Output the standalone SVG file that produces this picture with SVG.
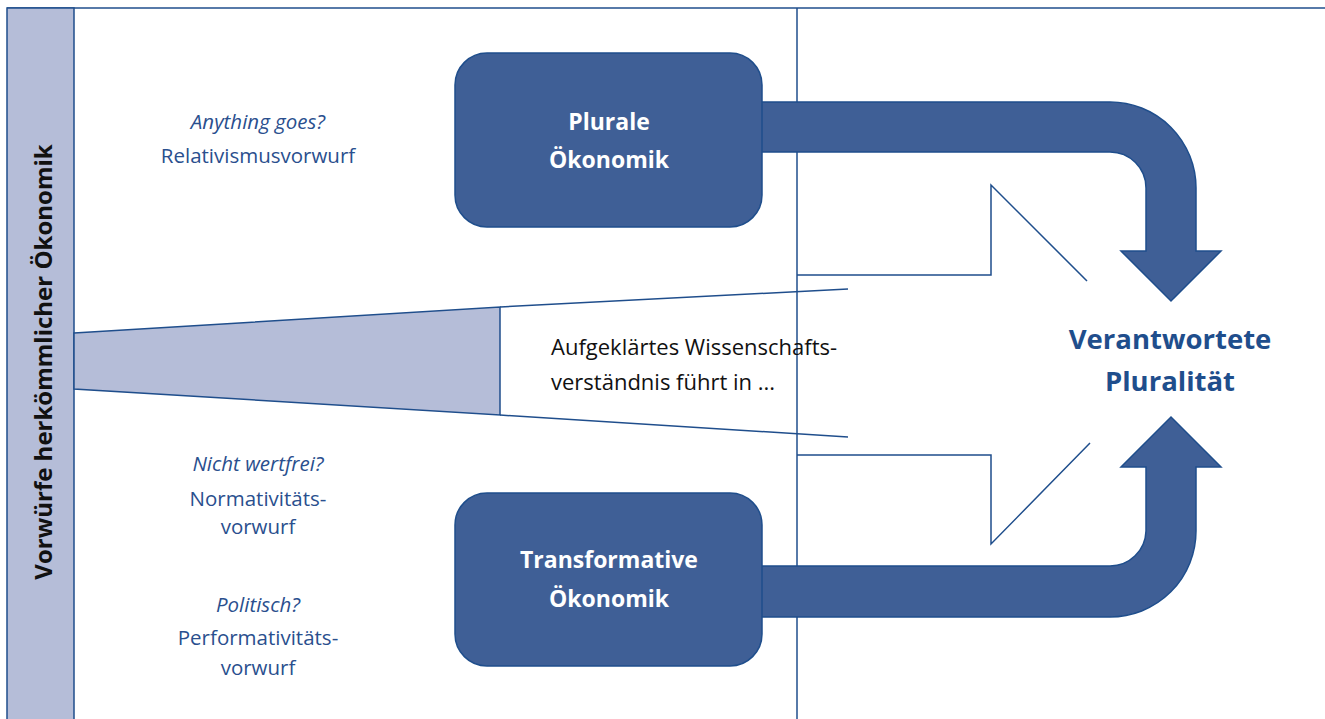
<svg xmlns="http://www.w3.org/2000/svg" width="1325" height="719" viewBox="0 0 1325 719">
<style>
.ln{fill:none;stroke:#1f4e8c;stroke-width:1.5}
.box{fill:#3f5f96;stroke:#1f4e8c;stroke-width:1.5}
.lt{fill:#b5bdd8;stroke:#1f4e8c;stroke-width:1.5}
.bt{font-family:"Open Sans","Liberation Sans",sans-serif;fill:#2a4f8e;font-size:20.5px;text-anchor:middle}
.it{font-style:italic}
.wt{font-family:"Open Sans","Liberation Sans",sans-serif;fill:#ffffff;font-size:23px;font-weight:bold;text-anchor:middle}
</style>
<rect width="1325" height="719" fill="#ffffff"/>
<g id="frame">
<line class="ln" x1="7" y1="8" x2="1325" y2="8"/>
<line class="ln" x1="797" y1="8" x2="797" y2="719"/>
</g>
<g id="sidebar">
<rect class="lt" x="7" y="8" width="67" height="720"/>
<text transform="translate(52,362) rotate(-90)" font-family="'Open Sans','Liberation Sans',sans-serif" font-size="24" font-weight="bold" fill="#111" text-anchor="middle">Vorwürfe herkömmlicher Ökonomik</text>
</g>
<g id="wedge">
<polygon class="lt" points="74,333 500,307 500,415 74,389"/>
<line class="ln" x1="500" y1="307" x2="848" y2="289"/>
<line class="ln" x1="500" y1="415" x2="848" y2="437"/>
</g>
<g id="accusations">
<text class="bt it" x="258" y="129">Anything goes?</text>
<text class="bt" x="258" y="163">Relativismusvorwurf</text>
<text class="bt it" x="258" y="471">Nicht wertfrei?</text>
<text class="bt" x="258" y="506">Normativitäts-</text>
<text class="bt" x="258" y="534">vorwurf</text>
<text class="bt it" x="258" y="612">Politisch?</text>
<text class="bt" x="258" y="645">Performativitäts-</text>
<text class="bt" x="258" y="675">vorwurf</text>
</g>
<g id="connectors">
<path class="box" d="M760,102 H1110 A86,86 0 0 1 1196,188 V251 H1221 L1171,301 L1121,251 H1146 V188 A36,36 0 0 0 1110,152 H760 Z"/>
<path class="box" d="M760,617 H1110 A86,86 0 0 0 1196,531 V467 H1221 L1171,417 L1121,467 H1146 V531 A36,36 0 0 1 1110,566 H760 Z"/>
<polyline class="ln" points="797,275 991,275 991,185 1087,281"/>
<polyline class="ln" points="797,455 991,455 991,544 1090,443"/>
</g>
<g id="plurale">
<rect class="box" x="455" y="53" width="307" height="174" rx="32"/>
<text class="wt" x="609" y="130">Plurale</text>
<text class="wt" x="609" y="168">Ökonomik</text>
</g>
<g id="transformative">
<rect class="box" x="455" y="493" width="307" height="173" rx="32"/>
<text class="wt" x="609" y="568">Transformative</text>
<text class="wt" x="609" y="607">Ökonomik</text>
</g>
<g id="middle-text">
<text x="551" y="355" font-family="'Open Sans','Liberation Sans',sans-serif" font-size="22" fill="#111">Aufgeklärtes Wissenschafts-</text>
<text x="551" y="390" font-family="'Open Sans','Liberation Sans',sans-serif" font-size="22" fill="#111">verständnis führt in ...</text>
</g>
<g id="result">
<text x="1170" y="349" font-family="'Open Sans','Liberation Sans',sans-serif" font-size="27.5" font-weight="bold" fill="#1f4e8c" text-anchor="middle">Verantwortete</text>
<text x="1170" y="391" font-family="'Open Sans','Liberation Sans',sans-serif" font-size="27.5" font-weight="bold" fill="#1f4e8c" text-anchor="middle">Pluralität</text>
</g>
</svg>
